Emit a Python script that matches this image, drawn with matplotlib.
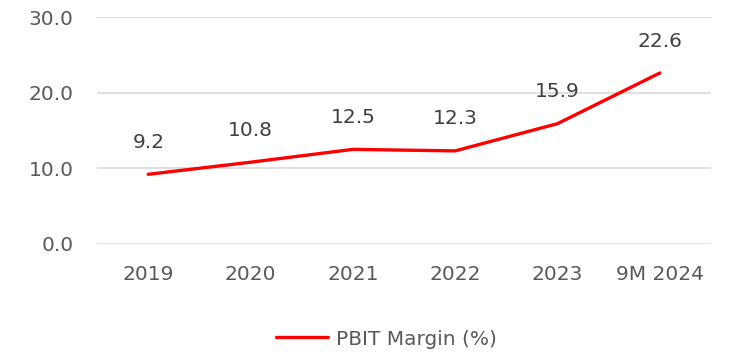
import matplotlib.pyplot as plt

plt.rcParams['font.family'] = ['DejaVu Sans']

years = ["2019", "2020", "2021", "2022", "2023", "9M 2024"]
margin = [9.2, 10.8, 12.5, 12.3, 15.9, 22.6]
yticks = [0.0, 10.0, 20.0, 30.0]

fig = plt.figure(figsize=(7.3, 3.55), dpi=100)
ax = fig.add_axes([0.133, 0.313, 0.841, 0.639])

x = range(len(years))
line, = ax.plot(x, margin, color="#ff0000", lw=2.4, solid_capstyle="round",
                label="PBIT Margin (%)")
for xi, v in zip(x, margin):
    ax.annotate(f"{v:.1f}", (xi, v), xytext=(0, 23), textcoords="offset points",
                ha="center", va="center", fontsize=14.5, color="#404040")

ax.set_xlim(-0.5, len(years) - 0.5)
ax.set_ylim(0, 30)
ax.set_yticks(yticks)
ax.set_yticklabels([f"{t:.1f}" for t in yticks])
ax.set_xticks(list(x))
ax.set_xticklabels(years)
ax.tick_params(length=0, labelsize=14.5, labelcolor="#595959")
ax.tick_params(axis="y", pad=17)
ax.tick_params(axis="x", pad=15)
ax.grid(axis="y", color="#d9d9d9", lw=1.2)
ax.set_axisbelow(True)
for s in ax.spines.values():
    s.set_visible(False)

fig.legend(handles=[line], loc="center", bbox_to_anchor=(0.529, 0.045),
           frameon=False, fontsize=14.5, labelcolor="#595959",
           handlelength=2.6, handletextpad=0.4)

fig.savefig("out.png", dpi=100)
